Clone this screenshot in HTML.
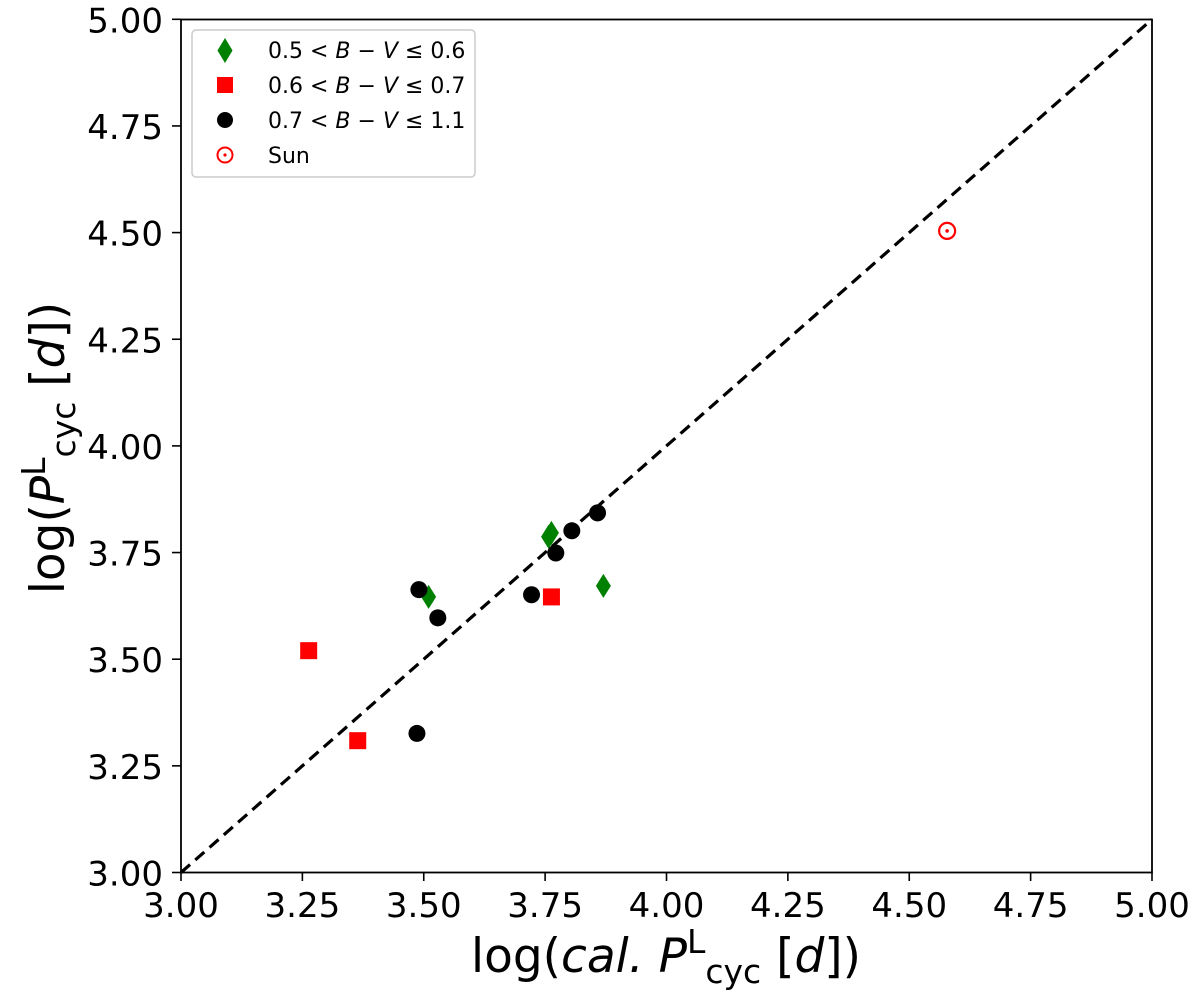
<!DOCTYPE html>
<html><head><meta charset="utf-8"><style>
html,body{margin:0;padding:0;background:#fff;}
svg{display:block;font-family:"DejaVu Sans","Liberation Sans",sans-serif;}
</style></head><body>
<svg id="chart" width="1200" height="995" viewBox="0 0 1200 995">
<rect x="0" y="0" width="1200" height="995" fill="#fff"/>
<g id="ticks"></g>
<line id="diag" stroke="#000" stroke-width="3.2" stroke-dasharray="12,7"/>
<g id="marks"></g>
<rect x="181" y="19.5" width="971" height="853" fill="none" stroke="#000" stroke-width="1.8"/>
<text x="666" y="972" font-size="47" text-anchor="middle">log(<tspan font-style="italic">cal.</tspan> <tspan font-style="italic">P</tspan><tspan dy="-19" font-size="33">L</tspan><tspan dy="30" font-size="33">cyc</tspan><tspan dy="-11"> [</tspan><tspan font-style="italic">d</tspan>])</text>
<text transform="translate(64,448) rotate(-90)" font-size="47" text-anchor="middle">log(<tspan font-style="italic">P</tspan><tspan dy="-19" font-size="33">L</tspan><tspan dy="30" font-size="33">cyc</tspan><tspan dy="-11"> [</tspan><tspan font-style="italic">d</tspan>])</text>
<g>
<rect x="192" y="30" width="283" height="147" rx="4" fill="#fff" fill-opacity="0.8" stroke="#ccc" stroke-width="1.5"/>
<g>
<polygon points="225,38 232.5,50.5 225,63 217.5,50.5" fill="#008000"/>
<text x="268" y="58" font-size="22">0.5 &lt; <tspan font-style="italic">B</tspan> − <tspan font-style="italic">V</tspan> ≤ 0.6</text></g>
<g>
<rect x="217" y="77" width="16" height="16" fill="#f00"/>
<text x="268" y="93" font-size="22">0.6 &lt; <tspan font-style="italic">B</tspan> − <tspan font-style="italic">V</tspan> ≤ 0.7</text></g>
<g>
<circle cx="225" cy="120" r="8" fill="#000"/>
<text x="268" y="128" font-size="22">0.7 &lt; <tspan font-style="italic">B</tspan> − <tspan font-style="italic">V</tspan> ≤ 1.1</text></g>
<g>
<circle cx="225" cy="155" r="7.5" fill="none" stroke="#f00" stroke-width="2"/>
<circle cx="225" cy="155" r="1.6" fill="#f00"/>
<text x="268" y="163" font-size="22">Sun</text></g>
</g>
</svg>
<script>
const greenX = [3.757, 3.763, 3.510, 3.870];
const greenY = [3.787, 3.796, 3.646, 3.672];
const redX = [3.263, 3.364, 3.763];
const redY = [3.520, 3.309, 3.646];
const blackX = [3.490, 3.529, 3.486, 3.722, 3.805, 3.858, 3.772];
const blackY = [3.663, 3.597, 3.326, 3.651, 3.801, 3.843, 3.749];
const sunX = [4.578];
const sunY = [4.504];
const tickVals = [3.00, 3.25, 3.50, 3.75, 4.00, 4.25, 4.50, 4.75, 5.00];
const tickLabels = ["3.00","3.25","3.50","3.75","4.00","4.25","4.50","4.75","5.00"];

const NS = "http://www.w3.org/2000/svg";
function sx(v){ return 181 + (v - 3) * 485.5; }
function sy(v){ return 872.5 - (v - 3) * 426.6; }
function mk(tag, attrs){ const e = document.createElementNS(NS, tag); for (const k in attrs) e.setAttribute(k, attrs[k]); return e; }

const ticks = document.getElementById('ticks');
tickVals.forEach((v, i) => {
  const xt = mk('line', {x1: sx(v), x2: sx(v), y1: 872.5, y2: 881, stroke: '#000', 'stroke-width': 1.6});
  
  
  ticks.appendChild(xt);
  const xl = mk('text', {x: sx(v), y: 917, 'font-size': 34, 'text-anchor': 'middle'});
  xl.textContent = tickLabels[i];
  
  
  ticks.appendChild(xl);
  const yt = mk('line', {x1: 172, x2: 181, y1: sy(v), y2: sy(v), stroke: '#000', 'stroke-width': 1.6});
  
  
  ticks.appendChild(yt);
  const yl = mk('text', {x: 163, y: sy(v) + 13, 'font-size': 34, 'text-anchor': 'end'});
  yl.textContent = tickLabels[i];
  
  
  ticks.appendChild(yl);
});

const diag = document.getElementById('diag');
diag.setAttribute('x1', sx(3)); diag.setAttribute('y1', sy(3));
diag.setAttribute('x2', sx(5)); diag.setAttribute('y2', sy(5));

const marks = document.getElementById('marks');
greenX.forEach((v, i) => {
  const x = sx(v), y = sy(greenY[i]);
  const p = mk('polygon', {points: `${x},${y-12} ${x+7.5},${y} ${x},${y+12} ${x-7.5},${y}`, fill: '#008000'});
  
  
  marks.appendChild(p);
});
redX.forEach((v, i) => {
  const r = mk('rect', {x: sx(v) - 8.5, y: sy(redY[i]) - 8.5, width: 17, height: 17, fill: '#f00'});
  
  
  marks.appendChild(r);
});
blackX.forEach((v, i) => {
  const c = mk('circle', {cx: sx(v), cy: sy(blackY[i]), r: 8.5, fill: '#000'});
  
  
  marks.appendChild(c);
});
sunX.forEach((v, i) => {
  const g = mk('g', {});
  
  
  g.appendChild(mk('circle', {cx: sx(v), cy: sy(sunY[i]), r: 8, fill: 'none', stroke: '#f00', 'stroke-width': 2.2}));
  g.appendChild(mk('circle', {cx: sx(v), cy: sy(sunY[i]), r: 1.8, fill: '#f00'}));
  marks.appendChild(g);
});
</script>
</body></html>
